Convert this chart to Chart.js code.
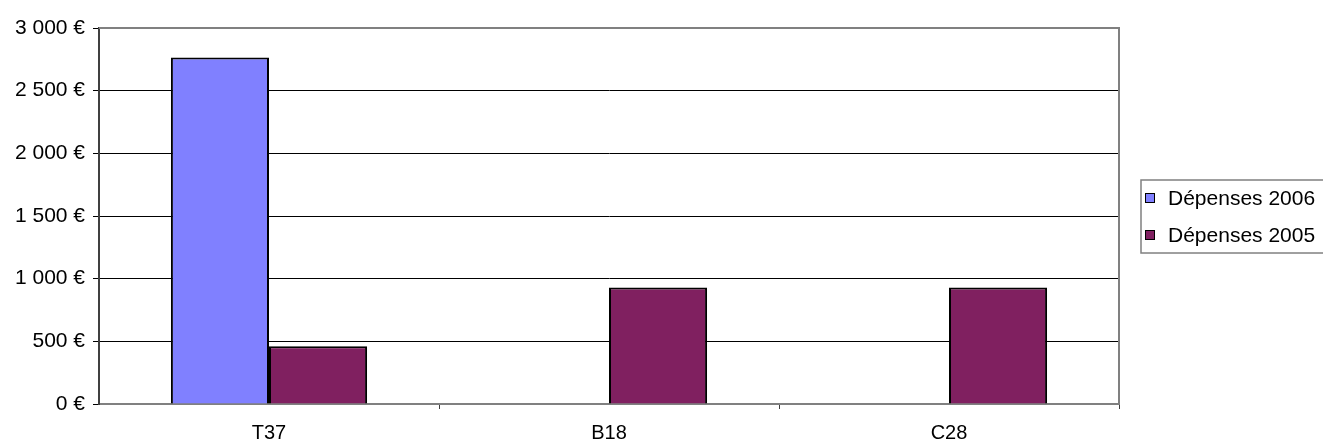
<!DOCTYPE html>
<html>
<head>
<meta charset="utf-8">
<script src="https://cdn.jsdelivr.net/npm/chart.js@4.4.0/dist/chart.umd.min.js"></script>
<style>
  html, body { margin: 0; padding: 0; background: #fff; }
  #wrap { width: 1323px; height: 443px; }
</style>
</head>
<body>
<div id="wrap"><canvas id="chart" width="1323" height="443"></canvas></div>
<script>
const categories = ["T37", "B18", "C28"];
const seriesNames = ["Dépenses 2006", "Dépenses 2005"];
const depenses2006 = [2765, null, null];
const depenses2005 = [460, 930, 930];
const yTicks = [0, 500, 1000, 1500, 2000, 2500, 3000];

const FONT = "'Liberation Sans', Arial, sans-serif";

function euro(v) {
  return String(v).replace(/\B(?=(\d{3})+(?!\d))/g, "\u00a0") + " €";
}

// gray frame on the top and right of the plot area
const plotFrame = {
  id: "plotFrame",
  afterDraw(chart) {
    const { ctx, chartArea: a } = chart;
    ctx.save();
    ctx.strokeStyle = "#808080";
    ctx.lineWidth = 2;
    ctx.beginPath();
    ctx.moveTo(a.left, a.top);
    ctx.lineTo(a.right, a.top);
    ctx.lineTo(a.right, a.bottom);
    ctx.stroke();
    ctx.restore();
  }
};

// boxed legend on the right
const boxLegend = {
  id: "boxLegend",
  afterDraw(chart) {
    const ctx = chart.ctx;
    const x = 1141, top = 180, bottom = 253, rowGap = 37, firstRow = 198;
    ctx.save();
    ctx.fillStyle = "#fff";
    ctx.fillRect(x, top, 200, bottom - top);
    ctx.strokeStyle = "#808080";
    ctx.lineWidth = 1.5;
    ctx.strokeRect(x, top, 200, bottom - top);
    ctx.font = "21px " + FONT;
    ctx.textBaseline = "middle";
    chart.data.datasets.forEach((ds, i) => {
      const y = firstRow + i * rowGap;
      ctx.fillStyle = ds.backgroundColor;
      ctx.fillRect(1145.5, y - 4.5, 9, 9);
      ctx.strokeStyle = "#000";
      ctx.lineWidth = 1;
      ctx.strokeRect(1145.5, y - 4.5, 9, 9);
      ctx.fillStyle = "#000";
      ctx.fillText(ds.label, 1168, y + 1);
    });
    ctx.restore();
  }
};

new Chart(document.getElementById("chart"), {
  type: "bar",
  data: {
    labels: categories,
    datasets: [
      { label: seriesNames[0], data: depenses2006, backgroundColor: "#8080ff" },
      { label: seriesNames[1], data: depenses2005, backgroundColor: "#802060" }
    ]
  },
  options: {
    responsive: false,
    animation: false,
    layout: { padding: { top: 28, right: 204, left: 0, bottom: 0 } },
    datasets: {
      bar: {
        borderColor: "#000",
        borderWidth: 2,
        categoryPercentage: 0.577,
        barPercentage: 1.0
      }
    },
    plugins: {
      legend: { display: false },
      tooltip: { enabled: false }
    },
    scales: {
      x: {
        afterFit(scale) { scale.height = 39; },
        grid: {
          offset: true,
          drawOnChartArea: false,
          tickLength: 5,
          color: ctx => (ctx.index === 0 ? "rgba(0,0,0,0)" : "#404040")
        },
        border: { color: "#808080", width: 2 },
        ticks: {
          padding: 12,
          color: "#000",
          font: { family: FONT, size: 20 }
        }
      },
      y: {
        min: 0,
        max: 3000,
        afterFit(scale) { scale.width = 99; },
        afterBuildTicks(scale) { scale.ticks = yTicks.map(v => ({ value: v })); },
        grid: {
          color: "#000",
          lineWidth: 1,
          tickLength: 6,
          tickColor: "#000"
        },
        border: { color: "#404040", width: 2 },
        ticks: {
          padding: 8,
          color: "#000",
          font: { family: FONT, size: 21 },
          callback: v => euro(v)
        }
      }
    }
  },
  plugins: [plotFrame, boxLegend]
});
</script>
</body>
</html>
